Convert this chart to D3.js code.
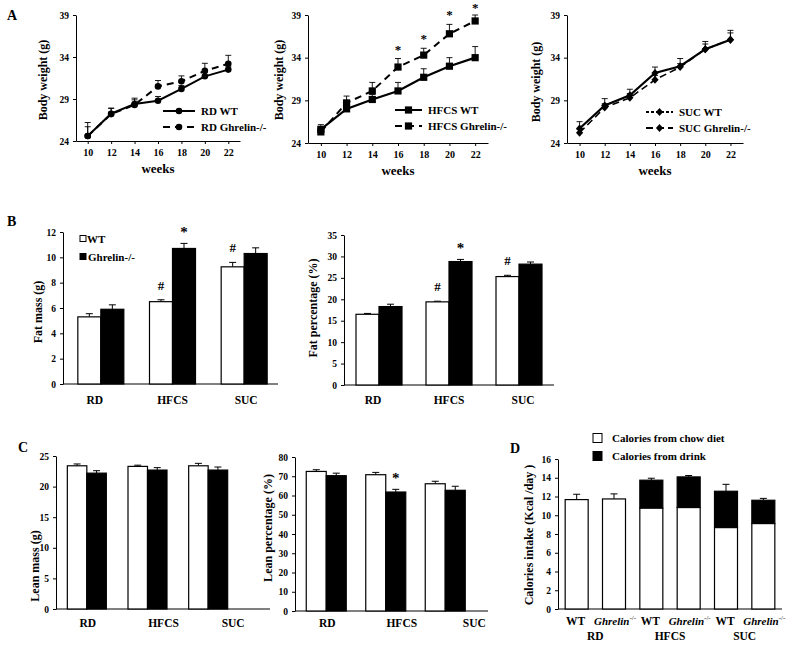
<!DOCTYPE html>
<html><head><meta charset="utf-8">
<script src="https://cdn.jsdelivr.net/npm/d3@7"></script>
<style>body{margin:0;background:#fff}svg{display:block}text{font-family:"Liberation Serif","Times New Roman",serif;font-weight:bold;fill:#000}</style>
</head><body>
<svg id="c" width="799" height="649"></svg>
<script>
// ---------- DATA ----------
const weeks = [10,12,14,16,18,20,22];
const weightTicks = [24,29,34,39];
const rdWT      = [24.6,27.25,28.4,28.8,30.2,31.7,32.5];
const rdWTerr   = [26.2,27.9,28.9,29.3,30.6,32.2,32.9];
const rdKO      = [24.6,27.2,28.3,30.5,31.1,32.35,33.2];
const rdKOerr   = [25.7,27.9,29.1,31.2,31.75,33.25,34.2];
const hfWT      = [25.6,28.0,29.1,30.1,31.7,33.0,34.0];
const hfWTerr   = [26.15,28.5,29.7,31.1,32.7,34.0,35.3];
const hfKO      = [25.3,28.7,30.1,32.9,34.3,36.8,38.3];
const hfKOerr   = [25.9,29.5,31.1,33.9,35.1,37.9,39.0];
const hfStars   = [false,false,false,true,true,true,true];
const sucWT     = [25.7,28.4,29.6,32.2,33.0,35.0,36.1];
const sucWTerr  = [26.5,29.2,30.3,32.9,33.9,35.9,37.2];
const sucKO     = [25.2,28.15,29.3,31.4,32.9,35.0,36.1];
const sucKOerr  = [25.6,28.6,29.8,31.9,33.3,35.6,36.9];

const diets = ["RD","HFCS","SUC"];
const fatMassWT = [5.3,6.5,9.25],  fatMassWTerr = [5.55,6.65,9.6];
const fatMassKO = [5.9,10.7,10.3], fatMassKOerr = [6.25,11.1,10.75];
const fatPctWT  = [16.5,19.4,25.3], fatPctWTerr = [16.7,19.55,25.6];
const fatPctKO  = [18.3,28.8,28.2], fatPctKOerr = [18.85,29.3,28.7];
const leanMassWT = [23.4,23.3,23.4], leanMassWTerr = [23.7,23.5,23.8];
const leanMassKO = [22.2,22.7,22.7], leanMassKOerr = [22.6,23.1,23.2];
const leanPctWT  = [72.5,70.8,66.1], leanPctWTerr = [73.4,72.0,67.4];
const leanPctKO  = [70.3,61.8,62.7], leanPctKOerr = [71.6,63.2,64.8];
const fatMassMarks  = [["","#","#"],["","*",""]]; // [WT],[KO]
const fatPctMarks   = [["","#","#"],["","*",""]];
const leanPctMarks  = [["","",""],["","*",""]];
const leanMassMarks = [["","",""],["","",""]];

const calGroups = ["RD-WT","RD-KO","HFCS-WT","HFCS-KO","SUC-WT","SUC-KO"];
const calChow   = [11.67,11.74,10.75,10.82,8.68,9.11];
const calTotal  = [11.67,11.74,13.74,14.09,12.56,11.6];
const calErr    = [12.24,12.28,13.95,14.24,13.3,11.8];

// ---------- DRAW ----------
const svg = d3.select("#c");
const tickFont = 9.5;

function panelLetter(t,x,y){ svg.append("text").attr("x",x).attr("y",y).attr("font-size",14).text(t); }
function yLabel(t,x,y,fs){ svg.append("text").attr("transform",`translate(${x},${y}) rotate(-90)`).attr("text-anchor","middle").attr("dominant-baseline","central").attr("font-size",fs||12).text(t); }

function styleAxis(g){
  g.selectAll("path.domain").attr("stroke","#000").attr("stroke-width",1);
  g.selectAll(".tick line").attr("stroke","#000");
  g.selectAll(".tick text").attr("font-size",tickFont).attr("font-family","Liberation Serif").attr("font-weight","bold").attr("fill","#000");
}

function marker(g,type,x,y){
  if(type==="circle") g.append("circle").attr("cx",x).attr("cy",y).attr("r",3.3).attr("fill","#000");
  else if(type==="square") g.append("rect").attr("x",x-3.6).attr("y",y-3.6).attr("width",7.2).attr("height",7.2).attr("fill","#000");
  else g.append("path").attr("d",`M${x},${y-4}L${x+3.6},${y}L${x},${y+4}L${x-3.6},${y}Z`).attr("fill","#000");
}

function lineChart(o){
  const x = d3.scalePoint().domain(weeks).range([o.x0,o.x1]).padding(0.5);
  const y = d3.scaleLinear().domain([24,39]).range([o.yB,o.yT]);
  const g = svg.append("g");
  const ya = g.append("g").attr("transform",`translate(${o.x0},0)`).call(d3.axisLeft(y).tickValues(weightTicks).tickSize(3).tickSizeOuter(0).tickPadding(4));
  const xa = g.append("g").attr("transform",`translate(0,${o.yB})`).call(d3.axisBottom(x).tickSize(3).tickSizeOuter(0).tickPadding(5));
  styleAxis(ya); styleAxis(xa);
  xa.selectAll(".tick text").attr("font-size",10);
  g.append("text").attr("x",(o.x0+o.x1)/2).attr("y",o.yB+32).attr("text-anchor","middle").attr("font-size",13).text("weeks");
  const line = d3.line().x((d,i)=>x(weeks[i])).y(d=>y(d));
  o.series.forEach(s=>{
    s.v.forEach((v,i)=>{
      const xx=x(weeks[i]);
      g.append("line").attr("x1",xx).attr("x2",xx).attr("y1",y(v)).attr("y2",y(s.e[i])).attr("stroke","#000").attr("stroke-width",0.9);
      g.append("line").attr("x1",xx-3).attr("x2",xx+3).attr("y1",y(s.e[i])).attr("y2",y(s.e[i])).attr("stroke","#000").attr("stroke-width",0.9);
    });
    g.append("path").datum(s.v).attr("d",line).attr("fill","none").attr("stroke","#000").attr("stroke-width",s.w||2).attr("stroke-dasharray",s.dash||null);
    s.v.forEach((v,i)=>marker(g,o.marker,x(weeks[i]),y(v)));
  });
  o.series.forEach((s,k)=>{
    const ly=o.leg[1]+k*16;
    g.append("line").attr("x1",o.leg[0]).attr("x2",o.leg[0]+o.legW).attr("y1",ly).attr("y2",ly).attr("stroke","#000").attr("stroke-width",2).attr("stroke-dasharray",s.legDash||s.dash||null);
    marker(g,o.marker,o.leg[0]+o.legW/2,ly);
    g.append("text").attr("x",o.leg[0]+o.legW+6).attr("y",ly).attr("dominant-baseline","central").attr("font-size",11).text(s.name);
  });
  if(o.stars) o.stars.forEach((st,i)=>{ if(st){ g.append("text").attr("x",x(weeks[i])).attr("y",Math.max(y(o.series[1].e[i])-5,12)).attr("text-anchor","middle").attr("font-size",13).text("*"); }});
  return {x,y};
}

panelLetter("A",7,20);
lineChart({x0:76,x1:240,yT:15,yB:141,marker:"circle",leg:[163,111],legW:32,
  series:[{name:"RD WT",v:rdWT,e:rdWTerr},{name:"RD Ghrelin-/-",v:rdKO,e:rdKOerr,dash:"7,5"}]});
yLabel("Body weight (g)",43,80);
lineChart({x0:308,x1:488,yT:15,yB:143,marker:"square",leg:[395,110],legW:27,stars:hfStars,
  series:[{name:"HFCS WT",v:hfWT,e:hfWTerr,w:2.2},{name:"HFCS Ghrelin-/-",v:hfKO,e:hfKOerr,dash:"7,5"}]});
yLabel("Body weight (g)",279,80);
lineChart({x0:567,x1:743,yT:15,yB:143,marker:"diamond",leg:[646,112],legW:27,
  series:[{name:"SUC WT",v:sucWT,e:sucWTerr,w:2.2,legDash:"3,2"},{name:"SUC Ghrelin-/-",v:sucKO,e:sucKOerr,dash:"7,4",w:1.6}]});
yLabel("Body weight (g)",536,82);

function barChart(o){
  const x = d3.scaleBand().domain(diets).range([o.r0,o.r1]);
  const y = d3.scaleLinear().domain([0,o.max]).range([o.yB,o.yT]);
  const g = svg.append("g");
  const ya = g.append("g").attr("transform",`translate(${o.ax},0)`).call(d3.axisLeft(y).tickValues(d3.range(0,o.max+o.step/2,o.step)).tickSize(3).tickSizeOuter(0).tickPadding(4));
  styleAxis(ya);
  g.append("line").attr("x1",o.ax).attr("x2",o.axEnd).attr("y1",o.yB).attr("y2",o.yB).attr("stroke","#000");
  const sub = d3.scaleBand().domain(["WT","KO"]).range([0,o.bw*2]);
  const sets=[{v:o.wt,e:o.wtE,fill:"#fff",key:"WT"},{v:o.ko,e:o.koE,fill:"#000",key:"KO"}];
  sets.forEach((s,k)=>{
    diets.forEach((d,i)=>{
      const bx = x(d)+x.bandwidth()/2-o.bw+sub(s.key);
      const cx = bx+o.bw/2;
      g.append("line").attr("x1",cx).attr("x2",cx).attr("y1",y(s.v[i])).attr("y2",y(s.e[i])).attr("stroke","#000");
      g.append("line").attr("x1",cx-3.5).attr("x2",cx+3.5).attr("y1",y(s.e[i])).attr("y2",y(s.e[i])).attr("stroke","#000");
      g.append("rect").attr("x",bx).attr("y",y(s.v[i])).attr("width",o.bw).attr("height",o.yB-y(s.v[i])).attr("fill",s.fill).attr("stroke","#000").attr("stroke-width",1.2);
      const m=o.marks[k][i];
      if(m) g.append("text").attr("x",cx).attr("y",y(s.e[i])-(m==="*"?6:10)).attr("text-anchor","middle").attr("font-size",m==="*"?15:13).attr("font-weight",m==="#"?"normal":"bold").text(m);
    });
  });
  diets.forEach((d,i)=>{
    g.append("text").attr("x",x(d)+x.bandwidth()/2+o.labOff[i]).attr("y",o.labY).attr("text-anchor","middle").attr("font-size",11.5).text(d);
  });
}

panelLetter("B",7,226);
barChart({r0:65,r1:280,ax:63,axEnd:278,yT:232,yB:384,max:12,step:2,bw:23,
  wt:fatMassWT,wtE:fatMassWTerr,ko:fatMassKO,koE:fatMassKOerr,marks:fatMassMarks,labOff:[-6,0,2],labY:404});
yLabel("Fat mass (g)",38,312);
svg.append("rect").attr("x",80).attr("y",235.5).attr("width",6).attr("height",6).attr("fill","#fff").attr("stroke","#000");
svg.append("text").attr("x",87).attr("y",239).attr("dominant-baseline","central").attr("font-size",11).text("WT");
svg.append("rect").attr("x",80).attr("y",253.5).attr("width",6).attr("height",6).attr("fill","#000").attr("stroke","#000");
svg.append("text").attr("x",88).attr("y",257).attr("dominant-baseline","central").attr("font-size",11).text("Ghrelin-/-");

barChart({r0:344,r1:554,ax:344,axEnd:554,yT:235,yB:385,max:35,step:5,bw:23,
  wt:fatPctWT,wtE:fatPctWTerr,ko:fatPctKO,koE:fatPctKOerr,marks:fatPctMarks,labOff:[-6,0,4],labY:404});
yLabel("Fat percentage (%)",313,308);

panelLetter("C",18,452);
barChart({r0:56.5,r1:238.5,ax:56,axEnd:270,yT:456,yB:609,max:25,step:5,bw:19.5,
  wt:leanMassWT,wtE:leanMassWTerr,ko:leanMassKO,koE:leanMassKOerr,marks:leanMassMarks,labOff:[1,16,25],labY:627});
yLabel("Lean mass (g)",35,566);
barChart({r0:296.5,r1:475,ax:295,axEnd:488,yT:457,yB:611,max:80,step:10,bw:20,
  wt:leanPctWT,wtE:leanPctWTerr,ko:leanPctKO,koE:leanPctKOerr,marks:leanPctMarks,labOff:[1,16,29],labY:627});
yLabel("Lean percentage (%)",268,528);

// D
panelLetter("D",510,453);
(function(){
  const x = d3.scaleBand().domain(calGroups).range([558,782]);
  const y = d3.scaleLinear().domain([0,16]).range([609,459]);
  const g = svg.append("g");
  const ya = g.append("g").attr("transform","translate(558,0)").call(d3.axisLeft(y).tickValues(d3.range(0,17,2)).tickSize(3).tickSizeOuter(0).tickPadding(4));
  styleAxis(ya);
  g.append("line").attr("x1",558).attr("x2",782).attr("y1",609).attr("y2",609).attr("stroke","#000");
  const bw=23;
  calGroups.forEach((c,i)=>{
    const cx=x(c)+x.bandwidth()/2, bx=cx-bw/2;
    g.append("line").attr("x1",cx).attr("x2",cx).attr("y1",y(calTotal[i])).attr("y2",y(calErr[i])).attr("stroke","#000");
    g.append("line").attr("x1",cx-3.5).attr("x2",cx+3.5).attr("y1",y(calErr[i])).attr("y2",y(calErr[i])).attr("stroke","#000");
    g.append("rect").attr("x",bx).attr("y",y(calTotal[i])).attr("width",bw).attr("height",y(calChow[i])-y(calTotal[i])).attr("fill","#000").attr("stroke","#000").attr("stroke-width",1.2);
    g.append("rect").attr("x",bx).attr("y",y(calChow[i])).attr("width",bw).attr("height",609-y(calChow[i])).attr("fill","#fff").attr("stroke","#000").attr("stroke-width",1.2);
    const isKO=c.endsWith("KO");
    const t=g.append("text").attr("x",cx+(isKO?1:-1)).attr("y",625).attr("text-anchor","middle").attr("font-size",isKO?11:11.5);
    if(isKO){
      t.append("tspan").attr("font-style","italic").text("Ghrelin");
      t.append("tspan").attr("font-size",7).attr("font-weight","normal").attr("dy",-5).text("-/-");
    } else t.text("WT");
  });
  diets.forEach((d,i)=>{
    const a=x(calGroups[2*i])+x.bandwidth()/2, b=x(calGroups[2*i+1])+x.bandwidth()/2;
    g.append("text").attr("x",(a+b)/2).attr("y",640).attr("text-anchor","middle").attr("font-size",11.5).text(d);
  });
  g.append("rect").attr("x",593).attr("y",433.5).attr("width",9).attr("height",9).attr("fill","#fff").attr("stroke","#000");
  g.append("text").attr("x",612).attr("y",438).attr("dominant-baseline","central").attr("font-size",11).text("Calories from chow diet");
  g.append("rect").attr("x",593).attr("y",451.5).attr("width",9).attr("height",9).attr("fill","#000").attr("stroke","#000");
  g.append("text").attr("x",612).attr("y",456).attr("dominant-baseline","central").attr("font-size",11).text("Calories from drink");
})();
yLabel("Calories intake (Kcal /day )",529,535,12);
</script>
</body></html>
